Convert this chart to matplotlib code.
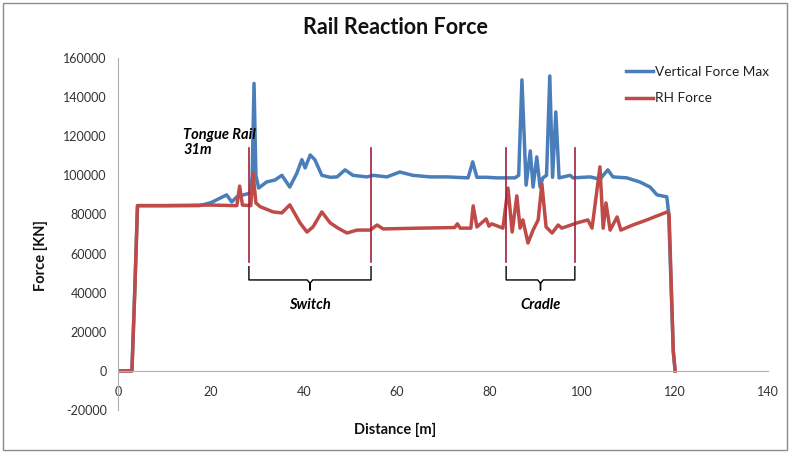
import matplotlib
matplotlib.use("Agg")
import matplotlib.pyplot as plt
from matplotlib.patches import Rectangle

plt.rcParams['font.family'] = ['Lato', 'DejaVu Sans']

# ---- data ----
red_x = [0, 3.0, 3.6, 4.2, 10, 20, 25.6, 26.2, 26.8, 28.6, 29.1, 29.7, 30.6, 33.4, 35.3,
         37.0, 39.2, 40.7, 42.0, 43.9, 45.7, 47.4, 49.3, 51.5, 54.3, 55.8, 57.1, 65, 72.5,
         73.1, 73.7, 76.0, 76.5, 77.3, 79.3, 79.9, 80.5, 82.9, 84.0, 84.9, 85.9, 86.6,
         87.2, 88.3, 89.4, 90.5, 91.3, 92.2, 93.5, 94.8, 95.6, 98.9, 101.2, 102.1, 103.8,
         104.5, 105.1, 106.0, 107.5, 108.3, 110.9, 113.9, 118.3, 118.7, 119.6, 120.0]
red_y = [0, 0, 40000, 84500, 84500, 84800, 84500, 94500, 84800, 84500, 101000, 85900,
         84000, 81300, 80800, 84900, 75700, 71000, 73600, 81300, 75700, 73000, 70500,
         72000, 72000, 74600, 72600, 73000, 73300, 75200, 73000, 73000, 84400, 73600,
         77700, 74000, 75200, 73000, 93500, 71000, 89500, 73000, 77200, 65400, 72000,
         77200, 95600, 73600, 70500, 74600, 73000, 75700, 77200, 73000, 104300, 73000,
         85900, 72000, 78700, 72000, 74600, 77200, 81300, 80000, 10000, 0]

blue_x = [0, 3.0, 3.6, 4.2, 10, 17.5, 20, 23.4, 24.5, 25.6, 27.0, 28.6, 28.9, 29.3, 29.7,
          30.3, 32.0, 33.8, 35.3, 37.0, 38.5, 39.6, 40.3, 41.4, 42.4, 43.9, 45.7, 47.2,
          48.9, 50.6, 53.6, 55.0, 57.9, 60.7, 63.5, 67.2, 70.9, 75.4, 76.4, 77.3, 79.4,
          81.6, 83.6, 85.5, 86.3, 87.0, 87.9, 88.8, 89.4, 90.2, 90.9, 91.5, 92.3, 93.0,
          93.6, 94.3, 95.0, 97.4, 98.0, 101.7, 103.8, 105.5, 106.6, 109.6, 112.4, 114.6,
          116.1, 118.2, 118.6, 119.6, 120.0]
blue_y = [0, 0, 40000, 84500, 84500, 84500, 86000, 90000, 86400, 89000, 90000, 91000,
          100000, 147000, 100000, 93500, 96600, 97600, 100000, 94000, 101000, 108000,
          103800, 110400, 108000, 100000, 99000, 99200, 102800, 100000, 99200, 100000,
          99200, 101700, 100000, 99200, 99200, 98700, 106900, 99000, 99000, 98700, 98700,
          98700, 100000, 148800, 95000, 112500, 94000, 109400, 94000, 98700, 100000,
          150800, 99000, 132400, 98700, 100000, 98700, 99200, 98000, 102800, 99200, 98700,
          96600, 94000, 90000, 89000, 81000, 10000, 0]

series_names = ['Vertical Force Max', 'RH Force']
x_ticks = [0, 20, 40, 60, 80, 100, 120, 140]
y_ticks = [-20000, 0, 20000, 40000, 60000, 80000, 100000, 120000, 140000, 160000]

# annotation sections (start, end, label)
sections = [(28.2, 54.5, 'Switch'), (83.6, 98.4, 'Cradle')]
marker_top, marker_bottom = 114000, 55700
tongue_x, tongue_y = 14.0, 116800

# ---- figure ----
fig = plt.figure(figsize=(7.9, 4.54), dpi=100)
fig.patches.append(Rectangle((0.004, 0.008), 0.992, 0.986, transform=fig.transFigure,
                             fill=False, edgecolor='#8c8c8c', linewidth=1.0))
ax = fig.add_axes([118/790, 1 - 410/454, (768 - 118)/790, (410 - 58)/454])

blue = '#4a7ebb'
red = '#be4b48'
ax.plot(blue_x, blue_y, color=blue, lw=2.5, label=series_names[0], solid_joinstyle='round')
ax.plot(red_x, red_y, color=red, lw=2.5, label=series_names[1], solid_joinstyle='round')

ax.set_xlim(0, 140)
ax.set_ylim(-20000, 160000)
ax.set_xticks(x_ticks)
ax.set_yticks(y_ticks)
ax.set_xticklabels([str(v) for v in x_ticks])
ax.set_yticklabels([str(v) for v in y_ticks])

for s in ['top', 'right']:
    ax.spines[s].set_visible(False)
ax.spines['bottom'].set_position(('data', 0))
ax.spines['bottom'].set_color('#b0b0b0')
ax.spines['left'].set_color('#b0b0b0')
ax.tick_params(axis='x', length=0, pad=11, labelsize=9, colors='#333333')
ax.tick_params(axis='y', length=0, pad=8, labelsize=9, colors='#333333')

ax.set_xlabel('Distance [m]', fontsize=10.5, fontweight='bold', color='#111111')
ax.xaxis.set_label_coords(0.427, -0.037)
ax.set_ylabel('Force [KN]', fontsize=10.5, fontweight='bold', color='#111111')
ax.yaxis.set_label_coords(-0.108, 0.44)

fig.text(0.5, 1 - 28/454, 'Rail Reaction Force', ha='center', va='center',
         fontsize=15.5, fontweight='bold', color='#111111')

# section markers and brackets
mk = '#a3203c'
for (a, b, lab) in sections:
    for xv in (a, b):
        ax.plot([xv, xv], [marker_bottom, marker_top], color=mk, lw=1.2)
    c = (a + b) / 2
    ax.plot([a, a, c - 0.6, c, c, c, c + 0.6, b, b],
            [53300, 46500, 46500, 44800, 41400, 44800, 46500, 46500, 53300],
            color='black', lw=1.0)
    ax.text(c, 33700, lab, ha='center', va='center', fontsize=10.5,
            fontweight='bold', style='italic', color='black')

ax.text(tongue_x, tongue_y, 'Tongue Rail\n31m', ha='left', va='center', fontsize=10.5,
        fontweight='bold', style='italic', color='black', linespacing=1.15)

leg = ax.legend(loc='upper left', bbox_to_anchor=(626/790, 1 - 66/454),
                bbox_transform=fig.transFigure, frameon=False, fontsize=9.8,
                handlelength=2.0, handletextpad=0.15, labelspacing=1.05,
                borderaxespad=0, borderpad=0)
for t in leg.get_texts():
    t.set_color('#222222')

fig.savefig('out.png', dpi=100)
